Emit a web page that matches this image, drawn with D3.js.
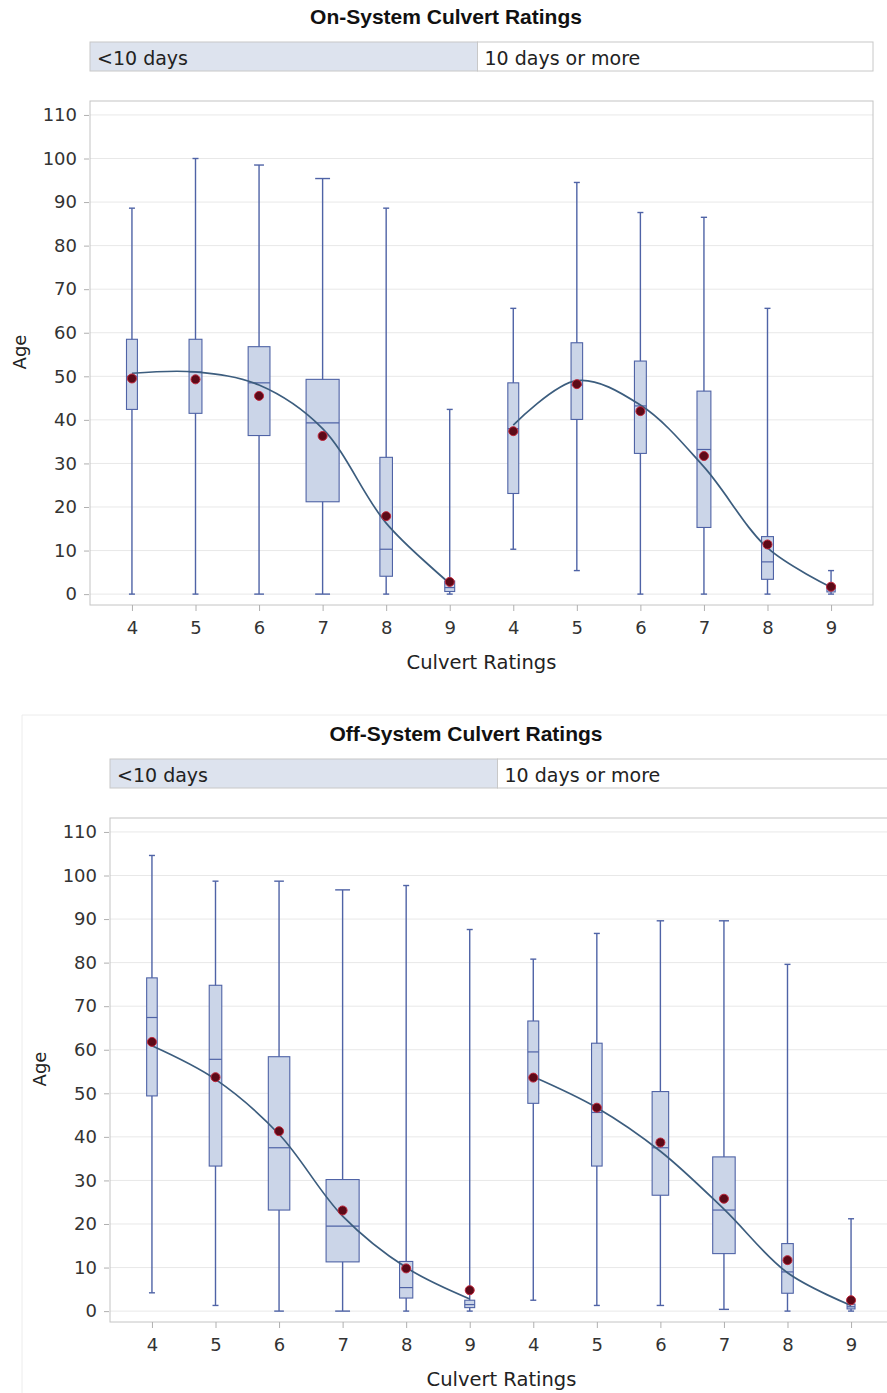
<!DOCTYPE html>
<html>
<head>
<meta charset="utf-8">
<script src="https://cdn.jsdelivr.net/npm/d3@7"></script>
<style>
  body { margin: 0; background: #fff; }
</style>
</head>
<body>
<div id="chart"></div>
<script>
const ratings = [4, 5, 6, 7, 8, 9];
const groups = ["<10 days", "10 days or more"];
const yTicks = [0, 10, 20, 30, 40, 50, 60, 70, 80, 90, 100, 110];

// rows per rating: [min, q1, median, q3, max, mean]
const onShort = [
  [0, 42.4, 50, 58.5, 88.6, 49.5],
  [0, 41.5, 51, 58.5, 100, 49.3],
  [0, 36.4, 48.5, 56.8, 98.5, 45.5],
  [0, 21.2, 39.3, 49.3, 95.4, 36.3],
  [0, 4.1, 10.3, 31.4, 88.6, 17.9],
  [0, 0.6, 1.5, 3.0, 42.4, 2.8]
];
const onLong = [
  [10.3, 23.1, 38, 48.5, 65.6, 37.4],
  [5.4, 40.1, 48, 57.7, 94.5, 48.2],
  [0, 32.3, 43.2, 53.5, 87.6, 42],
  [0, 15.3, 33.2, 46.6, 86.5, 31.7],
  [0, 3.4, 7.4, 13.2, 65.6, 11.4],
  [0, 0.5, 1.2, 2.0, 5.4, 1.7]
];
const offShort = [
  [4.2, 49.4, 67.4, 76.5, 104.6, 61.8],
  [1.3, 33.3, 57.8, 74.8, 98.7, 53.7],
  [0, 23.2, 37.5, 58.4, 98.7, 41.3],
  [0, 11.3, 19.5, 30.2, 96.7, 23.1],
  [0, 3.0, 5.4, 11.4, 97.7, 9.8],
  [0, 0.8, 1.5, 2.5, 87.6, 4.8]
];
const offLong = [
  [2.5, 47.7, 59.5, 66.6, 80.8, 53.6],
  [1.3, 33.3, 45.6, 61.5, 86.7, 46.7],
  [1.3, 26.6, 37.5, 50.4, 89.6, 38.7],
  [0.4, 13.2, 23.2, 35.4, 89.6, 25.8],
  [0, 4.1, 9.0, 15.5, 79.6, 11.7],
  [0, 0.5, 1.0, 1.6, 21.2, 2.5]
];

// smoothed fit values at each rating
const onShortFit = [50.7, 51, 48, 38, 16.3, 2.5];
const onLongFit = [38.8, 49, 43.4, 29.2, 10.6, 1.6];
const offShortFit = [60.9, 53.2, 40.6, 21.8, 10, 2.8];
const offLongFit = [53.8, 46.7, 36.7, 23.4, 8.8, 1.3];

// relative group size (box width)
const onShortN = [0.33, 0.39, 0.66, 1, 0.38, 0.3];
const onLongN = [0.33, 0.35, 0.36, 0.42, 0.36, 0.25];
const offShortN = [0.32, 0.38, 0.65, 1, 0.4, 0.3];
const offLongN = [0.33, 0.32, 0.5, 0.68, 0.35, 0.24];

const boxFill = "#cbd5e8";
const boxStroke = "#4f63a6";
const fitStroke = "#3c5d7e";
const meanFill = "#5c0a18";
const meanStroke = "#c0263a";
const textColor = "#333";

const svg = d3.select("#chart")
  .append("svg")
  .attr("width", 887)
  .attr("height", 1393);

function drawChart(opts) {
  const left = 90, right = 873, top = 101, bottom = 605;
  const g = svg.append("g")
    .attr("transform", `translate(${opts.dx},${opts.dy})`);

  const keys = [];
  groups.forEach(function (grp, gi) {
    ratings.forEach(function (r) { keys.push(gi + "-" + r); });
  });
  const x = d3.scalePoint().domain(keys).range([left, right]).padding(0.66);
  const y = d3.scaleLinear().domain([-2.5, 113.2]).range([bottom, top]);
  const w = d3.scaleLinear().domain([0, 1]).range([0, x.step() * 0.52]);

  // title
  g.append("text")
    .attr("x", 446)
    .attr("y", 24)
    .attr("text-anchor", "middle")
    .attr("font-family", "Liberation Sans, Arial, sans-serif")
    .attr("font-weight", "bold")
    .attr("font-size", "21px")
    .attr("fill", "#111")
    .text(opts.title);

  // group header strip
  const split = x("0-9") + x.step() / 2 - 4;
  const cells = [
    { x0: left, x1: split, fill: "#dde3ee", label: groups[0] },
    { x0: split, x1: right, fill: "#fff", label: groups[1] }
  ];
  g.selectAll("rect.cell")
    .data(cells)
    .enter()
    .append("rect")
    .attr("class", "cell")
    .attr("x", function (d) { return d.x0; })
    .attr("y", 42)
    .attr("width", function (d) { return d.x1 - d.x0; })
    .attr("height", 29)
    .attr("fill", function (d) { return d.fill; })
    .attr("stroke", "#c8c8c8");
  g.selectAll("text.cell")
    .data(cells)
    .enter()
    .append("text")
    .attr("class", "cell")
    .attr("x", function (d) { return d.x0 + 7; })
    .attr("y", 65)
    .attr("font-family", "DejaVu Sans, sans-serif")
    .attr("font-size", "19px")
    .attr("fill", "#222")
    .text(function (d) { return d.label; });

  // grid
  g.selectAll("line.grid")
    .data(yTicks)
    .enter()
    .append("line")
    .attr("class", "grid")
    .attr("x1", left)
    .attr("x2", right)
    .attr("y1", function (d) { return y(d); })
    .attr("y2", function (d) { return y(d); })
    .attr("stroke", "#e8e8e8");

  // frame
  g.append("rect")
    .attr("x", left)
    .attr("y", top)
    .attr("width", right - left)
    .attr("height", bottom - top)
    .attr("fill", "none")
    .attr("stroke", "#c4c4c4");

  // axes
  const yAxis = g.append("g")
    .attr("transform", `translate(${left - 1},0)`)
    .call(d3.axisLeft(y).tickValues(yTicks).tickSize(5).tickPadding(7));
  const xAxis = g.append("g")
    .attr("transform", `translate(0,${bottom})`)
    .call(d3.axisBottom(x).tickSize(6).tickPadding(10)
      .tickFormat(function (k) { return k.split("-")[1]; }));
  [yAxis, xAxis].forEach(function (ax) {
    ax.select(".domain").remove();
    ax.selectAll(".tick line").attr("stroke", "#b0b0b0");
    ax.selectAll(".tick text")
      .attr("font-family", "DejaVu Sans, sans-serif")
      .attr("font-size", "18px")
      .attr("fill", textColor);
  });

  g.append("text")
    .attr("x", (left + right) / 2)
    .attr("y", 669)
    .attr("text-anchor", "middle")
    .attr("font-family", "DejaVu Sans, sans-serif")
    .attr("font-size", "19.5px")
    .attr("fill", "#222")
    .text("Culvert Ratings");
  g.append("text")
    .attr("transform", "translate(26,352) rotate(-90)")
    .attr("text-anchor", "middle")
    .attr("font-family", "DejaVu Sans, sans-serif")
    .attr("font-size", "18px")
    .attr("fill", "#222")
    .text("Age");

  // boxes per group
  groups.forEach(function (grp, gi) {
    const rows = opts.boxes[gi].map(function (v, i) {
      return {
        cx: x(gi + "-" + ratings[i]),
        hw: w(opts.sizes[gi][i]) / 2,
        min: v[0], q1: v[1], med: v[2], q3: v[3], max: v[4], mean: v[5]
      };
    });
    const bg = g.append("g");

    bg.selectAll("line.whisker")
      .data(rows)
      .enter()
      .append("line")
      .attr("x1", function (d) { return d.cx; })
      .attr("x2", function (d) { return d.cx; })
      .attr("y1", function (d) { return y(d.min); })
      .attr("y2", function (d) { return y(d.max); })
      .attr("stroke", boxStroke)
      .attr("stroke-width", 1.4);

    ["min", "max"].forEach(function (key) {
      bg.selectAll("line.cap-" + key)
        .data(rows)
        .enter()
        .append("line")
        .attr("x1", function (d) { return d.cx - Math.max(3, d.hw * 0.45); })
        .attr("x2", function (d) { return d.cx + Math.max(3, d.hw * 0.45); })
        .attr("y1", function (d) { return y(d[key]); })
        .attr("y2", function (d) { return y(d[key]); })
        .attr("stroke", boxStroke)
        .attr("stroke-width", 1.4);
    });

    bg.selectAll("rect.box")
      .data(rows)
      .enter()
      .append("rect")
      .attr("x", function (d) { return d.cx - d.hw; })
      .attr("y", function (d) { return y(d.q3); })
      .attr("width", function (d) { return d.hw * 2; })
      .attr("height", function (d) { return y(d.q1) - y(d.q3); })
      .attr("fill", boxFill)
      .attr("stroke", boxStroke)
      .attr("stroke-width", 1.1);

    bg.selectAll("line.median")
      .data(rows)
      .enter()
      .append("line")
      .attr("x1", function (d) { return d.cx - d.hw; })
      .attr("x2", function (d) { return d.cx + d.hw; })
      .attr("y1", function (d) { return y(d.med); })
      .attr("y2", function (d) { return y(d.med); })
      .attr("stroke", boxStroke)
      .attr("stroke-width", 1.2);

    const fitLine = d3.line()
      .x(function (d, i) { return x(gi + "-" + ratings[i]); })
      .y(function (d) { return y(d); })
      .curve(d3.curveCatmullRom.alpha(0.5));
    bg.append("path")
      .attr("d", fitLine(opts.fits[gi]))
      .attr("fill", "none")
      .attr("stroke", fitStroke)
      .attr("stroke-width", 1.7);

    bg.selectAll("circle.mean")
      .data(rows)
      .enter()
      .append("circle")
      .attr("cx", function (d) { return d.cx; })
      .attr("cy", function (d) { return y(d.mean); })
      .attr("r", 4.5)
      .attr("fill", meanFill)
      .attr("stroke", meanStroke)
      .attr("stroke-width", 1);
  });
}

drawChart({
  title: "On-System Culvert Ratings",
  dx: 0, dy: 0,
  boxes: [onShort, onLong],
  fits: [onShortFit, onLongFit],
  sizes: [onShortN, onLongN]
});

// faint border of the second picture
svg.append("path")
  .attr("d", "M22,1393V715H887")
  .attr("fill", "none")
  .attr("stroke", "#ececec");

drawChart({
  title: "Off-System Culvert Ratings",
  dx: 20, dy: 717,
  boxes: [offShort, offLong],
  fits: [offShortFit, offLongFit],
  sizes: [offShortN, offLongN]
});
</script>
</body>
</html>
